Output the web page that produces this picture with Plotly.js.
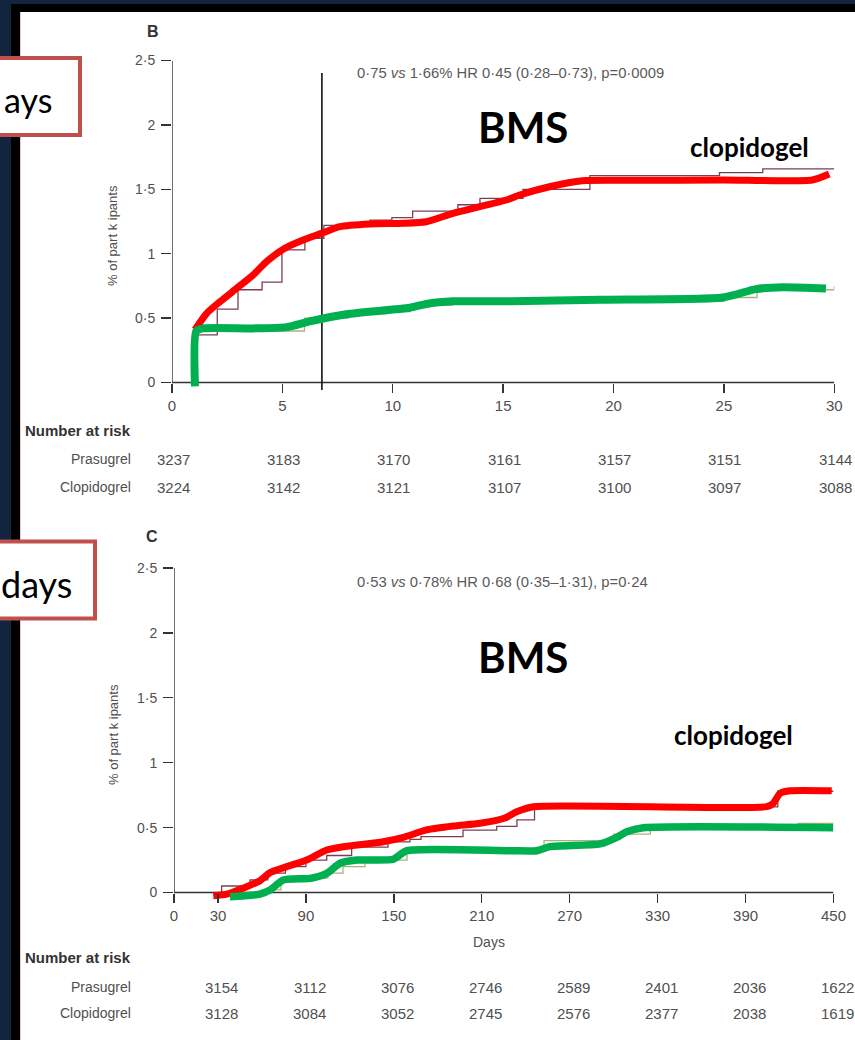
<!DOCTYPE html>
<html><head><meta charset="utf-8">
<script src="https://cdn.plot.ly/plotly-3.0.1.min.js"></script>
<style>html,body{margin:0;padding:0;background:#13243f;overflow:hidden}</style>
</head><body><div id="chart" style="width:855px;height:1040px"></div>
<script>
// ---------- Panel B (0-30 days) ----------
const tickDaysB = [0, 5, 10, 15, 20, 25, 30];
const yTickVals = [0, 0.5, 1, 1.5, 2, 2.5];
const yTickText = ['0', '0·5', '1', '1·5', '2', '2·5'];

// thick hand-drawn curves
const clopiB_days = [1.04, 1.57, 2.17, 2.93, 3.68, 4.28, 5.11, 5.94, 6.77, 7.6, 8.96, 10.47, 11.52, 12.73, 13.94, 15.14, 15.75, 17.1, 18.6, 20.9, 25.0, 29.0, 29.77];
const clopiB_pct  = [0.41, 0.537, 0.627, 0.731, 0.835, 0.938, 1.042, 1.106, 1.158, 1.21, 1.231, 1.236, 1.248, 1.314, 1.365, 1.417, 1.456, 1.52, 1.567, 1.57, 1.572, 1.572, 1.618];
const prasB_days  = [1.04, 1.1, 1.42, 3.68, 5.19, 6.24, 7.9, 10.77, 11.52, 12.73, 15.3, 19.37, 24.95, 26.45, 27.66, 29.62];
const prasB_pct   = [-0.03, 0.40, 0.42, 0.42, 0.43, 0.475, 0.53, 0.58, 0.61, 0.63, 0.63, 0.643, 0.66, 0.725, 0.74, 0.73];
// thin Kaplan-Meier steps underneath
const clopiB_stepDays = [1, 2.05, 2.99, 4.08, 4.98, 6.02, 6.88, 8.97, 9.96, 10.9, 12.95, 13.95, 15.9, 18.93, 24.8, 26.76, 30];
const clopiB_stepPct  = [0.37, 0.57, 0.72, 0.78, 1.03, 1.12, 1.22, 1.26, 1.28, 1.33, 1.38, 1.43, 1.50, 1.606, 1.629, 1.658, 1.658];
const prasB_stepDays  = [1, 6.0, 8.0, 10.8, 12.7, 25.0, 26.5, 30];
const prasB_stepPct   = [0.40, 0.50, 0.55, 0.60, 0.63, 0.66, 0.72, 0.75];
// number at risk
const riskPrasB  = [3237, 3183, 3170, 3161, 3157, 3151, 3144];
const riskClopiB = [3224, 3142, 3121, 3107, 3100, 3097, 3088];
const cutDayB = 6.79;
const statsB = '0·75 <i>vs</i> 1·66% HR 0·45 (0·28–0·73), p=0·0009';

// ---------- Panel C (30-450 days) ----------
const tickDaysC = [0, 30, 90, 150, 210, 270, 330, 390, 450];
const riskDaysC = [30, 90, 150, 210, 270, 330, 390, 450];
const clopiC_days = [26.8, 36.0, 49.6, 58.7, 65.5, 76.9, 90.5, 104.2, 115.5, 142.8, 156.4, 172.4, 190.6, 208.8, 225.8, 233.8, 245.2, 404.4, 408.9, 413.5, 420.3, 448.8];
const clopiC_pct  = [-0.025, -0.012, 0.045, 0.091, 0.153, 0.199, 0.25, 0.327, 0.353, 0.391, 0.425, 0.482, 0.512, 0.533, 0.574, 0.622, 0.661, 0.661, 0.687, 0.764, 0.784, 0.784];
const prasC_days  = [38.2, 58.7, 65.5, 74.6, 92.8, 104.2, 113.3, 124.7, 149.6, 158.8, 229.3, 247.5, 256.5, 290.7, 302.1, 308.9, 320.2, 449.9];
const prasC_pct   = [-0.032, -0.012, 0.019, 0.096, 0.109, 0.148, 0.225, 0.25, 0.256, 0.322, 0.322, 0.322, 0.353, 0.374, 0.425, 0.468, 0.499, 0.499];
const clopiC_stepDays = [28, 32.5, 51.9, 64, 76, 90, 104.2, 121.2, 146, 161, 168.5, 197.2, 220.2, 234, 246, 412, 450];
const clopiC_stepPct  = [0, 0.05, 0.097, 0.15, 0.2, 0.25, 0.285, 0.35, 0.39, 0.41, 0.43, 0.48, 0.51, 0.56, 0.66, 0.78, 0.78];
const prasC_stepDays  = [38, 60, 73, 95, 105, 115.3, 130.3, 159, 252.5, 300, 325, 426, 450];
const prasC_stepPct   = [0, 0.02, 0.09, 0.11, 0.15, 0.199, 0.25, 0.32, 0.40, 0.45, 0.495, 0.533, 0.533];
const riskPrasC  = [3154, 3112, 3076, 2746, 2589, 2401, 2036, 1622];
const riskClopiC = [3128, 3084, 3052, 2745, 2576, 2377, 2038, 1619];
const statsC = '0·53 <i>vs</i> 0·78% HR 0·68 (0·35–1·31), p=0·24';

// ---------- geometry helpers ----------
const W = 855, H = 1040;
const X = p => p / W, Y = p => 1 - p / H;
const RED = '#ff0000', GREEN = '#00b050', THIN_RED = '#7b3f55', THIN_GREEN = '#a9b27a';
const FONT = 'Liberation Sans, Arial, sans-serif';
const SLIDE = 'Lato, sans-serif';
const TXT = '#505050';

// panel B pixel frame
const bX0 = 172, bX1 = 834.3, bY0 = 382.5, bY25 = 60.5, bBot = 395;
const bUnit = (bY0 - bY25) / 2.5;
// panel C pixel frame
const cX0 = 174, cX1 = 833.5, cY0 = 892.5, cY25 = 568, cBot = 905;
const cUnit = (cY0 - cY25) / 2.5;

function thick(x, y, color, w, xa, ya) {
  return {x, y, xaxis: xa, yaxis: ya, mode: 'lines', type: 'scatter',
    line: {color, width: w, shape: 'spline', smoothing: 0.6}, hoverinfo: 'skip', showlegend: false};
}
function steps(x, y, color, xa, ya) {
  return {x, y, xaxis: xa, yaxis: ya, mode: 'lines', type: 'scatter',
    line: {color, width: 1.3, shape: 'hv'}, hoverinfo: 'skip', showlegend: false};
}

const data = [
  steps(clopiB_stepDays, clopiB_stepPct, THIN_RED, 'x', 'y'),
  steps(prasB_stepDays, prasB_stepPct, THIN_GREEN, 'x', 'y'),
  thick(clopiB_days, clopiB_pct, RED, 7, 'x', 'y'),
  thick(prasB_days, prasB_pct, GREEN, 8, 'x', 'y'),
  steps(clopiC_stepDays, clopiC_stepPct, THIN_RED, 'x2', 'y2'),
  steps(prasC_stepDays, prasC_stepPct, THIN_GREEN, 'x2', 'y2'),
  thick(clopiC_days, clopiC_pct, RED, 7, 'x2', 'y2'),
  thick(prasC_days, prasC_pct, GREEN, 7.5, 'x2', 'y2')
];

const axisCommon = {showgrid: false, zeroline: false, showline: false, ticks: 'outside',
  tickcolor: '#333', tickwidth: 1.4, fixedrange: true, tickfont: {family: FONT, size: 15, color: TXT}};

const layout = {
  width: W, height: H, margin: {l: 0, r: 0, t: 0, b: 0},
  paper_bgcolor: '#13243f', plot_bgcolor: 'rgba(0,0,0,0)', showlegend: false,
  xaxis: Object.assign({}, axisCommon, {domain: [X(bX0), X(bX1)], range: [0, 30],
    anchor: 'free', position: Y(bY0), tickvals: tickDaysB, ticklen: 9}),
  yaxis: Object.assign({}, axisCommon, {domain: [Y(bBot), Y(bY25)], range: [-(bBot - bY0) / bUnit, 2.5],
    anchor: 'x', tickvals: yTickVals, ticktext: yTickText, ticklen: 10, ticklabelstandoff: 3,
    tickfont: {family: FONT, size: 14, color: TXT}}),
  xaxis2: Object.assign({}, axisCommon, {domain: [X(cX0), X(cX1)], range: [0, 450],
    anchor: 'free', position: Y(cY0), tickvals: tickDaysC, ticklen: 9}),
  yaxis2: Object.assign({}, axisCommon, {domain: [Y(cBot), Y(cY25)], range: [-(cBot - cY0) / cUnit, 2.5],
    anchor: 'x2', tickvals: yTickVals, ticktext: yTickText, ticklen: 10, ticklabelstandoff: 3,
    tickfont: {family: FONT, size: 14, color: TXT}}),
  shapes: [
    // slide frame
    {type: 'rect', xref: 'paper', yref: 'paper', x0: X(11), x1: 1.01, y0: -0.01, y1: Y(4), fillcolor: '#000', line: {width: 0}, layer: 'below'},
    {type: 'rect', xref: 'paper', yref: 'paper', x0: X(20), x1: 1.01, y0: -0.01, y1: Y(12), fillcolor: '#ffffff', line: {width: 0}, layer: 'below'},
    {type: 'line', xref: 'paper', yref: 'paper', x0: X(20.5), x1: X(20.5), y0: 0, y1: Y(12), line: {color: '#f2c6cf', width: 1}, layer: 'below'},
    // axis lines panel B
    {type: 'line', xref: 'x', yref: 'y', x0: 0, x1: 30, y0: 0, y1: 0, line: {color: '#333', width: 1.4}, layer: 'below'},
    {type: 'line', xref: 'x', yref: 'y', x0: 0, x1: 0, y0: 0, y1: 2.5, line: {color: '#333', width: 1.4}, layer: 'below'},
    {type: 'line', xref: 'x', yref: 'y', x0: cutDayB, x1: cutDayB, y0: -(390 - bY0) / bUnit, y1: (bY0 - 73) / bUnit, line: {color: '#111', width: 1.6}, layer: 'below'},
    // axis lines panel C
    {type: 'line', xref: 'x2', yref: 'y2', x0: 0, x1: 450, y0: 0, y1: 0, line: {color: '#333', width: 1.4}, layer: 'below'},
    {type: 'line', xref: 'x2', yref: 'y2', x0: 0, x1: 0, y0: 0, y1: 2.5, line: {color: '#333', width: 1.4}, layer: 'below'},
    // overlay boxes on the left
    {type: 'rect', xref: 'paper', yref: 'paper', x0: X(-20), x1: X(80), y0: Y(135), y1: Y(58), fillcolor: '#ffffff', line: {color: '#c0504d', width: 4}, layer: 'above'},
    {type: 'rect', xref: 'paper', yref: 'paper', x0: X(-20), x1: X(95), y0: Y(618.5), y1: Y(541.5), fillcolor: '#ffffff', line: {color: '#c0504d', width: 4}, layer: 'above'}
  ],
  annotations: []
};

const A = layout.annotations;
function pa(text, px, py, opts) {
  A.push(Object.assign({text, xref: 'paper', yref: 'paper', x: X(px), y: Y(py), showarrow: false,
    xanchor: 'center', yanchor: 'middle', font: {family: FONT, size: 13, color: TXT}}, opts || {}));
}
// panel labels
pa('<b>B</b>', 153, 31, {font: {family: FONT, size: 16, color: '#333'}});
pa('<b>C</b>', 152, 536, {font: {family: FONT, size: 16, color: '#333'}});
// stats
pa(statsB, 355, 73, {xanchor: 'left', font: {family: FONT, size: 14.8, color: '#5a5a5a'}});
pa(statsC, 355, 582, {xanchor: 'left', font: {family: FONT, size: 14.8, color: '#5a5a5a'}});
// y axis titles
pa('% of part k ipants', 113, 236, {textangle: -90, font: {family: FONT, size: 13, color: TXT}});
pa('% of part k ipants', 113, 735, {textangle: -90, font: {family: FONT, size: 13, color: TXT}});
// Days
pa('Days', 489, 942, {font: {family: FONT, size: 14, color: TXT}});
// overlay texts
pa('<b>BMS</b>', 523, 127, {font: {family: SLIDE, size: 42, color: '#000'}});
pa('<b>BMS</b>', 523, 657, {font: {family: SLIDE, size: 42, color: '#000'}});
pa('<b>clopidogel</b>', 749, 147, {font: {family: SLIDE, size: 26, color: '#000'}});
pa('<b>clopidogel</b>', 733, 735, {font: {family: SLIDE, size: 26, color: '#000'}});
pa('ays', 54, 100, {xanchor: 'right', font: {family: SLIDE, size: 34, color: '#000'}});
pa('days', 74, 584, {xanchor: 'right', font: {family: SLIDE, size: 36, color: '#000'}});
// number at risk
function riskBlock(yHead, yP, yC, days, pras, clopi, xa, shift) {
  pa('<b>Number at risk</b>', 133, yHead, {xanchor: 'right', font: {family: FONT, size: 15, color: '#333'}});
  pa('Prasugrel', 133, yP, {xanchor: 'right', font: {family: FONT, size: 14, color: TXT}});
  pa('Clopidogrel', 133, yC, {xanchor: 'right', font: {family: FONT, size: 14, color: TXT}});
  days.forEach((d, i) => {
    A.push({text: String(pras[i]), xref: xa, yref: 'paper', x: d, y: Y(yP), xshift: shift, showarrow: false,
      xanchor: 'center', yanchor: 'middle', font: {family: FONT, size: 15, color: TXT}});
    A.push({text: String(clopi[i]), xref: xa, yref: 'paper', x: d, y: Y(yC), xshift: shift, showarrow: false,
      xanchor: 'center', yanchor: 'middle', font: {family: FONT, size: 15, color: TXT}});
  });
}
riskBlock(430, 459, 487, tickDaysB, riskPrasB, riskClopiB, 'x', 1);
riskBlock(957, 987, 1013, riskDaysC, riskPrasC, riskClopiC, 'x2', 4);

Plotly.newPlot('chart', data, layout, {staticPlot: true, displayModeBar: false});
</script></body></html>
